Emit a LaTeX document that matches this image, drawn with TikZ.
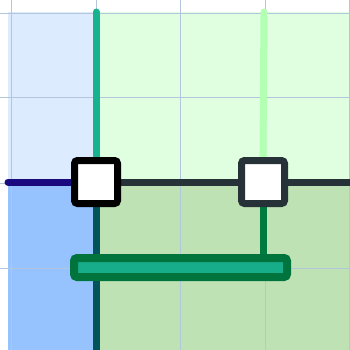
\documentclass[tikz,border=0pt]{standalone}
\definecolor{lblue}{HTML}{DCEBFE}
\definecolor{lgreen}{HTML}{E0FFE0}
\definecolor{dblue}{HTML}{96C3FE}
\definecolor{dgreen}{HTML}{BFE2B4}
\definecolor{gridc}{HTML}{B4C6DE}
\definecolor{tealA}{HTML}{17B28F}
\definecolor{mintA}{HTML}{B3FFB3}
\definecolor{navyA}{HTML}{1A0A80}
\definecolor{slateA}{HTML}{263238}
\definecolor{dteal}{HTML}{00545A}
\definecolor{dgreenL}{HTML}{007A3E}
\definecolor{barfill}{HTML}{17AD8A}
\definecolor{barline}{HTML}{00743C}
\pgfdeclarelayer{back}
\pgfdeclarelayer{wires}
\pgfsetlayers{back,wires,main}
\tikzset{
  wire/.style={line width=7pt},
  gridline/.style={gridc, line width=1pt},
  termbox/.style={draw, fill=white, line width=7pt, minimum size=43pt, inner sep=0pt, rounded corners=3pt},
  barbox/.style={draw=barline, fill=barfill, line width=8pt, minimum width=213pt, minimum height=19pt, inner sep=0pt, rounded corners=3pt},
}
\begin{document}
\begin{tikzpicture}[x=1pt,y=-1pt]
\useasboundingbox (0,0) rectangle (350,350);
\begin{pgfonlayer}{back}
\fill[lblue] (8,12) rectangle (96,182);
\fill[lgreen] (96,12) rectangle (350,182);
\fill[dblue] (8,182) rectangle (96,350);
\fill[dgreen] (96,182) rectangle (350,350);
\foreach \g in {11,96,180,265,349} \draw[gridline] (\g,0) -- (\g,350);
\foreach \g in {14,98,183,268} \draw[gridline] (0,\g) -- (350,\g);
\end{pgfonlayer}
\coordinate (t1) at (96,12);
\coordinate (t2) at (264,12);
\coordinate (lft) at (8,182);
\coordinate (rgt) at (350,182);
\coordinate (bot) at (96,350);
\node[termbox, draw=black] (b1) at (96,182) {};
\node[termbox, draw=slateA] (b2) at (263,182) {};
\node[barbox] (bar) at (180.5,267.5) {};
\begin{pgfonlayer}{wires}
\draw[wire, tealA, line cap=round] (t1) -- (b1.north);
\draw[wire, mintA, line cap=round] (t2) -- (b2.north);
\draw[wire, navyA, line cap=round] (lft) -- (b1.west);
\draw[wire, slateA] (b1.east) -- (b2.west);
\draw[wire, slateA] (b2.east) -- (rgt);
\draw[wire, dteal] (b1.south) -- (bot);
\draw[wire, dgreenL] (b2.south) -- (b2.south |- bar.north);
\end{pgfonlayer}
\end{tikzpicture}
\end{document}
